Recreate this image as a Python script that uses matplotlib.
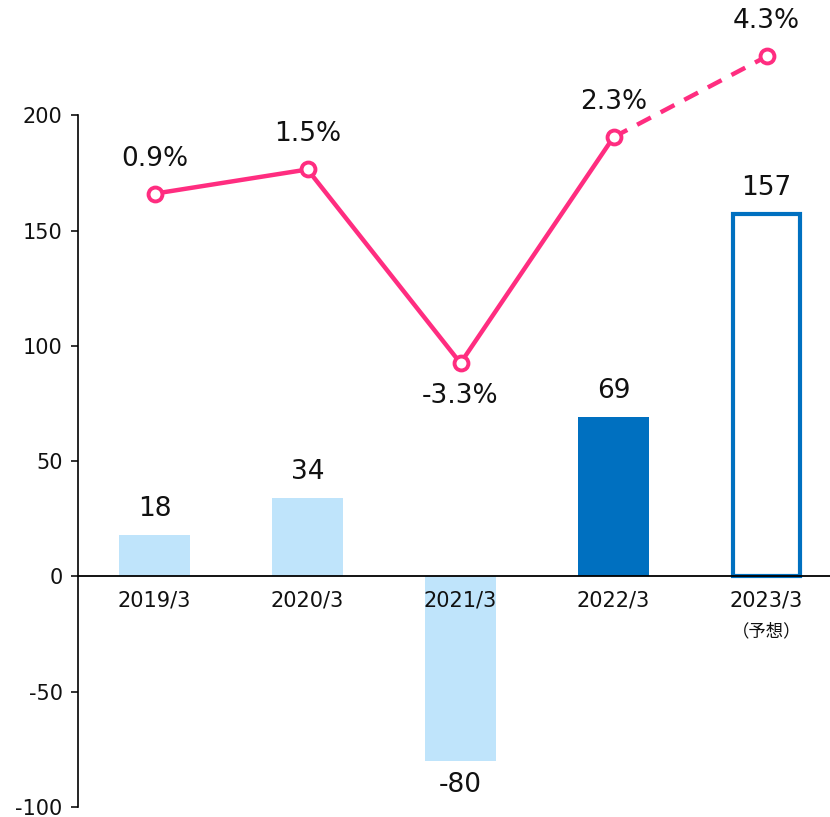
import matplotlib.pyplot as plt
import numpy as np

plt.rcParams['font.family'] = ['DejaVu Sans', 'Noto Sans CJK JP']
plt.rcParams['axes.unicode_minus'] = False

years = ["2019/3", "2020/3", "2021/3", "2022/3", "2023/3"]
profit = [18, 34, -80, 69, 157]
margin = [0.9, 1.5, -3.3, 2.3, 4.3]
margin_labels = ["0.9%", "1.5%", "-3.3%", "2.3%", "4.3%"]

light = "#BFE4FB"
dark = "#0070C0"
pink = "#FF2D80"

fig = plt.figure(figsize=(8.3, 8.17), dpi=100)
ax = fig.add_axes([78 / 830, 10 / 817, 765 / 830, 807 / 817])
x = np.arange(len(years))

# bars: actuals filled, forecast as outline
colors = [light, light, light, dark, "white"]
bars = ax.bar(x, profit, width=0.46, color=colors, zorder=2)
bars[-1].set_edgecolor(dark)
bars[-1].set_linewidth(3)
bars[-1].set_width(0.44)
bars[-1].set_x(x[-1] - 0.22)

for xi, v in zip(x, profit):
    off = 26 if v >= 0 else -24
    ax.annotate(str(v), (xi, v), xytext=(0, off), textcoords="offset pixels",
                ha="center", va="center", fontsize=19, color="#111111")

ax.set_xlim(-0.5, 4.5)
ax.set_ylim(-100, 250)
ax.set_yticks([-100, -50, 0, 50, 100, 150, 200])
ax.tick_params(axis="y", labelsize=15, length=5, width=1.2, pad=6, colors="#111111")
ax.spines["left"].set_bounds(-100, 200)
ax.spines["left"].set_linewidth(1.2)
for s in ["top", "right", "bottom"]:
    ax.spines[s].set_visible(False)
ax.set_xticks([])
ax.axhline(0, color="black", lw=1.3, zorder=3)

for xi, lab in zip(x, years):
    ax.annotate(lab, (xi, 0), xytext=(0, -24), textcoords="offset pixels",
                ha="center", va="center", fontsize=15, color="#111111")
ax.annotate("（予想）", (x[-1], 0), xytext=(0, -55), textcoords="offset pixels",
            ha="center", va="center", fontsize=12.5, color="#111111")

# margin line on its own scale
ax2 = ax.twinx()
ax2.set_ylim(-14.3, 5.7)
ax2.axis("off")
ax2.plot(x[:4], margin[:4], color=pink, lw=3.2, zorder=3)
ax2.plot(x[3:], margin[3:], color=pink, lw=3.2, dashes=(3.5, 2.5), zorder=3)
ax2.plot(x, margin, ls="none", marker="o", ms=10, mfc="white", mec=pink, mew=2.8, zorder=4)
for xi, v, lab in zip(x, margin, margin_labels):
    off = 35 if v >= 0 else -33
    ax2.annotate(lab, (xi, v), xytext=(0, off), textcoords="offset pixels",
                 ha="center", va="center", fontsize=19, color="#111111")

fig.savefig("out.png", dpi=100)
